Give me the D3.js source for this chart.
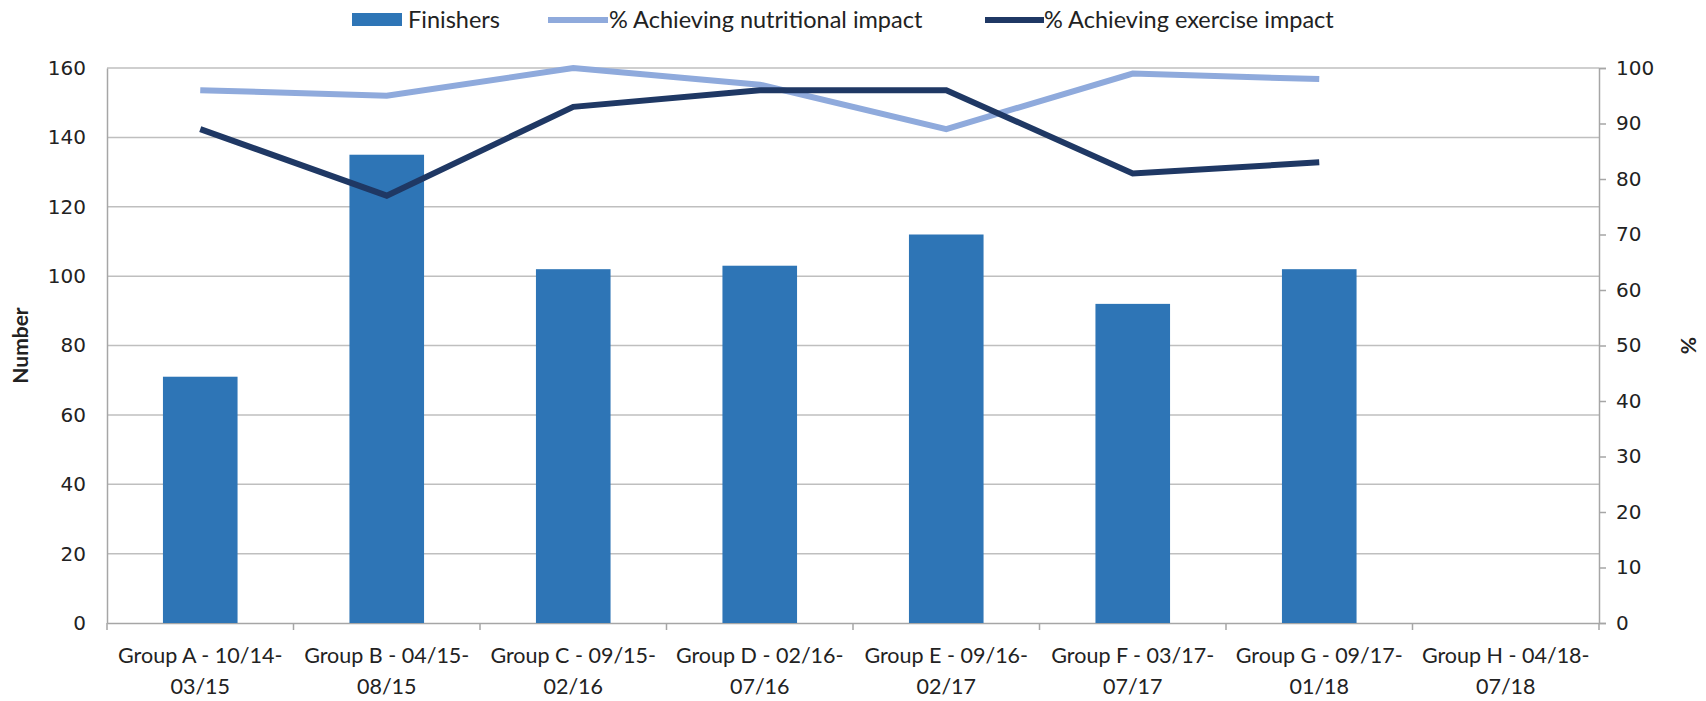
<!DOCTYPE html>
<html><head><meta charset="utf-8">
<script src="https://cdn.jsdelivr.net/npm/d3@7"></script>
<style>body{margin:0;background:#fff}svg{display:block}text{font-family:Lato,"Open Sans",sans-serif}</style>
</head><body>
<svg id="c" width="1706" height="701"></svg>
<script>
const categories = ["Group A - 10/14-\n03/15","Group B - 04/15-\n08/15","Group C - 09/15-\n02/16","Group D - 02/16-\n07/16","Group E - 09/16-\n02/17","Group F - 03/17-\n07/17","Group G - 09/17-\n01/18","Group H - 04/18-\n07/18"];
const finishers = [71,135,102,103,112,92,102,null];
const nutritional = [96,95,100,97,89,99,98,null];
const exercise = [89,77,93,96,96,81,83,null];
const leftTicks = [0,20,40,60,80,100,120,140,160];
const rightTicks = [0,10,20,30,40,50,60,70,80,90,100];
const seriesNames = ["Finishers","% Achieving nutritional impact","% Achieving exercise impact"];

const svg = d3.select("#c");
const L=107,R=1599,T=68,B=623;
const x = d3.scaleBand().domain(categories).range([L,R]).paddingInner(0.6).paddingOuter(0.3);
const yL = d3.scaleLinear().domain([0,160]).range([B,T]);
const yR = d3.scaleLinear().domain([0,100]).range([B,T]);
const cBar="#2e75b6", cNut="#8faadc", cEx="#1f3864";
const tickFont = "'DejaVu Sans',sans-serif";

// gridlines
svg.append("g").selectAll("line").data(leftTicks.filter(d=>d>0)).join("line")
  .attr("x1",L).attr("x2",R).attr("y1",d=>yL(d)).attr("y2",d=>yL(d))
  .attr("stroke","#bfbfbf").attr("stroke-width",1.5);

// left axis
const gl = svg.append("g").attr("transform",`translate(${L},0)`)
  .call(d3.axisLeft(yL).tickValues(leftTicks).tickSize(0).tickPadding(21));
gl.select(".domain").attr("stroke","#a6a6a6").attr("stroke-width",1.5);
gl.selectAll("text").attr("fill","#222").style("font-family",tickFont).attr("font-size",20);

// right axis
const gr = svg.append("g").attr("transform",`translate(${R},0)`)
  .call(d3.axisRight(yR).tickValues(rightTicks).tickSize(7).tickPadding(10));
gr.select(".domain").attr("stroke","#a6a6a6").attr("stroke-width",1.5);
gr.selectAll(".tick line").attr("stroke","#a6a6a6").attr("stroke-width",1.5);
gr.selectAll("text").attr("fill","#222").style("font-family",tickFont).attr("font-size",20);

// bottom axis
const gb = svg.append("g").attr("transform",`translate(0,${B})`)
  .call(d3.axisBottom(x).tickSize(0).tickFormat(""));
gb.select(".domain").attr("stroke","#a6a6a6").attr("stroke-width",1.5);
const bounds = categories.map(c=>x(c)-x.step()*x.paddingInner()/2).concat([R]);
gb.selectAll(".bt").data(bounds).join("line").attr("class","bt")
  .attr("x1",d=>d).attr("x2",d=>d).attr("y1",0).attr("y2",7)
  .attr("stroke","#a6a6a6").attr("stroke-width",1.5);
const lbl = gb.selectAll(".lbl").data(categories).join("text").attr("class","lbl")
  .attr("text-anchor","middle").attr("fill","#222").attr("font-size",21.5)
  .attr("transform",d=>`translate(${x(d)+x.bandwidth()/2},0)`);
lbl.each(function(d){
  const parts=d.split("\n");
  d3.select(this).selectAll("tspan").data(parts).join("tspan")
    .attr("x",0).attr("y",(p,i)=>40+i*31).text(p=>p);
});

// bars
svg.append("g").selectAll("rect").data(categories.map((c,i)=>({c,v:finishers[i]})).filter(d=>d.v!=null)).join("rect")
  .attr("x",d=>x(d.c)).attr("width",x.bandwidth())
  .attr("y",d=>yL(d.v)).attr("height",d=>yL(0)-yL(d.v)).attr("fill",cBar);

// lines
const line = d3.line().defined(d=>d.v!=null).x(d=>x(d.c)+x.bandwidth()/2).y(d=>yR(d.v));
svg.append("path").datum(categories.map((c,i)=>({c,v:nutritional[i]})))
  .attr("d",line).attr("fill","none").attr("stroke",cNut).attr("stroke-width",6);
svg.append("path").datum(categories.map((c,i)=>({c,v:exercise[i]})))
  .attr("d",line).attr("fill","none").attr("stroke",cEx).attr("stroke-width",6);

// axis titles
svg.append("text").attr("transform",`translate(28,${(T+B)/2}) rotate(-90)`)
  .attr("text-anchor","middle").attr("font-weight","bold").attr("font-size",21).attr("fill","#222").text("Number");
svg.append("text").attr("transform",`translate(1681,${(T+B)/2}) rotate(90)`)
  .attr("text-anchor","middle").attr("font-weight","bold").attr("font-size",21).attr("fill","#222").text("%");

// legend
const lg = svg.append("g");
lg.append("rect").attr("x",352).attr("y",13).attr("width",50).attr("height",13).attr("fill",cBar);
lg.append("text").attr("x",408).attr("y",28).attr("font-size",23.5).attr("fill","#222").text(seriesNames[0]);
lg.append("line").attr("x1",548).attr("x2",608).attr("y1",20).attr("y2",20).attr("stroke",cNut).attr("stroke-width",6);
lg.append("text").attr("x",609).attr("y",28).attr("font-size",23.5).attr("fill","#222").text(seriesNames[1]);
lg.append("line").attr("x1",985).attr("x2",1044).attr("y1",20).attr("y2",20).attr("stroke",cEx).attr("stroke-width",6);
lg.append("text").attr("x",1044).attr("y",28).attr("font-size",23.5).attr("fill","#222").text(seriesNames[2]);
</script>
</body></html>
